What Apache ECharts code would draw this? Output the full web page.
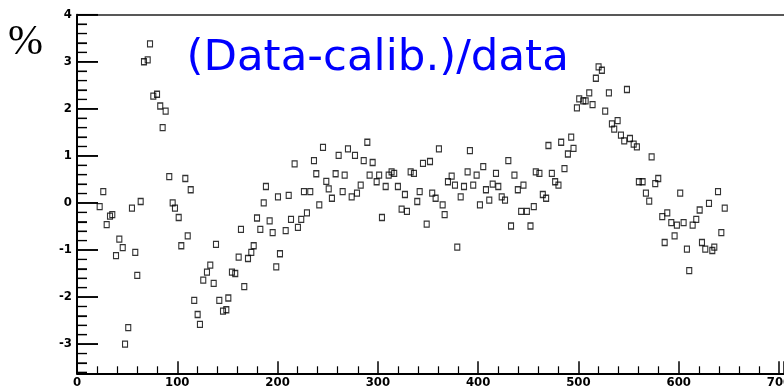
<!DOCTYPE html>
<html>
<head>
<meta charset="utf-8">
<script src="https://cdn.jsdelivr.net/npm/echarts@6/dist/echarts.min.js"></script>
<style>
  html, body { margin: 0; padding: 0; background: #fff; }
  #chart { width: 784px; height: 387px; }
</style>
</head>
<body>
<div id="chart"></div>
<script>
// Channel position (x) and relative deviation in percent (y)
const xValues = [
  22.6, 26.2, 29.6, 32.9, 35.2, 38.9, 42.2, 45.6, 47.9, 51.1,
  54.8, 58.1, 60.1, 63.5, 66.8, 70.5, 72.8, 76.1, 79.8, 83.0,
  85.4, 88.4, 92.0, 95.4, 97.7, 101.4, 104.0, 108.0, 110.4, 113.4,
  116.9, 120.3, 122.6, 125.9, 129.6, 132.9, 136.3, 138.6, 141.9, 145.6,
  148.9, 150.9, 154.5, 157.8, 161.2, 163.5, 166.8, 170.5, 173.8, 176.2,
  179.5, 182.8, 186.2, 188.4, 192.1, 195.1, 198.7, 200.4, 202.4, 208.1,
  211.1, 213.4, 217.0, 220.3, 223.6, 226.3, 229.3, 232.6, 236.3, 238.6,
  241.6, 245.3, 248.6, 251.0, 254.2, 257.9, 260.9, 264.9, 266.9, 270.2,
  273.9, 277.2, 279.2, 282.9, 285.9, 289.5, 291.8, 294.8, 298.8, 301.3,
  304.1, 307.8, 310.8, 313.7, 316.3, 320.0, 323.7, 327.0, 329.0, 332.7,
  336.0, 339.3, 341.7, 345.0, 348.7, 352.0, 354.2, 357.6, 360.9, 364.6,
  366.6, 369.9, 373.6, 376.9, 379.2, 382.6, 385.9, 389.5, 391.8, 395.1,
  398.5, 401.8, 405.1, 407.8, 411.1, 414.5, 417.8, 420.1, 423.5, 426.8,
  430.1, 432.8, 436.2, 439.6, 442.9, 445.2, 448.6, 452.2, 455.5, 457.5,
  461.1, 464.5, 467.8, 470.1, 473.5, 476.8, 480.1, 482.8, 486.1, 489.5,
  492.8, 495.1, 498.5, 500.8, 504.8, 507.2, 510.8, 514.1, 517.4, 520.1,
  523.4, 526.7, 530.4, 533.4, 535.7, 539.1, 542.4, 545.7, 548.4, 551.4,
  555.1, 558.3, 560.3, 564.0, 567.3, 570.6, 573.0, 576.6, 579.6, 583.6,
  586.0, 588.6, 592.6, 595.9, 598.2, 601.5, 604.9, 608.2, 610.5, 613.9,
  617.5, 620.9, 623.2, 626.5, 630.2, 633.5, 635.5, 639.2, 642.5, 645.9
];
const yValues = [
  -0.08, 0.24, -0.46, -0.28, -0.25, -1.12, -0.77, -0.95, -3.00, -2.65,
  -0.11, -1.05, -1.54, 0.03, 3.00, 3.04, 3.38, 2.27, 2.31, 2.06,
  1.60, 1.95, 0.56, 0.00, -0.11, -0.31, -0.91, 0.52, -0.70, 0.28,
  -2.07, -2.37, -2.58, -1.64, -1.47, -1.32, -1.71, -0.88, -2.07, -2.30,
  -2.27, -2.02, -1.47, -1.50, -1.15, -0.56, -1.78, -1.18, -1.05, -0.91,
  -0.32, -0.56, 0.00, 0.35, -0.38, -0.63, -1.36, 0.13, -1.08, -0.59,
  0.16, -0.35, 0.83, -0.52, -0.35, 0.24, -0.21, 0.24, 0.90, 0.62,
  -0.04, 1.18, 0.46, 0.30, 0.10, 0.62, 1.01, 0.24, 0.59, 1.15,
  0.13, 1.01, 0.21, 0.38, 0.90, 1.29, 0.59, 0.86, 0.45, 0.59,
  -0.31, 0.35, 0.59, 0.66, 0.63, 0.35, -0.13, 0.18, -0.18, 0.66,
  0.63, 0.03, 0.24, 0.84, -0.45, 0.88, 0.21, 0.10, 1.15, -0.04,
  -0.25, 0.45, 0.57, 0.38, -0.94, 0.13, 0.35, 0.66, 1.11, 0.38,
  0.59, -0.04, 0.77, 0.28, 0.06, 0.40, 0.63, 0.35, 0.13, 0.06,
  0.90, -0.49, 0.59, 0.28, -0.18, 0.38, -0.18, -0.49, -0.08, 0.66,
  0.63, 0.18, 0.10, 1.22, 0.63, 0.45, 0.38, 1.29, 0.73, 1.04,
  1.40, 1.16, 2.02, 2.21, 2.17, 2.17, 2.34, 2.09, 2.65, 2.89,
  2.82, 1.95, 2.34, 1.68, 1.57, 1.75, 1.44, 1.32, 2.41, 1.37,
  1.25, 1.19, 0.45, 0.45, 0.21, 0.04, 0.98, 0.41, 0.52, -0.29,
  -0.84, -0.21, -0.42, -0.70, -0.47, 0.21, -0.42, -0.98, -1.44, -0.47,
  -0.35, -0.15, -0.84, -0.98, -0.01, -1.01, -0.94, 0.24, -0.63, -0.11
];

// Y-axis tick positions (percent)
const yMajorTicks = [-3, -2, -1, 0, 1, 2, 3, 4];
const yMinorTicks = [
  -3.6, -3.4, -3.2, -2.8, -2.6, -2.4, -2.2, -1.8, -1.6, -1.4, -1.2,
  -0.8, -0.6, -0.4, -0.2, 0.2, 0.4, 0.6, 0.8, 1.2, 1.4, 1.6, 1.8,
  2.2, 2.4, 2.6, 2.8, 3.2, 3.4, 3.6, 3.8
];

const titleText = '(Data-calib.)/data';
const unitText = '%';

const tickFont = {
  color: '#000',
  fontFamily: '"DejaVu Sans Condensed", "Liberation Sans Narrow", "Liberation Sans", sans-serif',
  fontWeight: 'bold',
  fontSize: 13
};

const textElements = [
  {
    type: 'text',
    left: 8,
    top: 22,
    z: 10,
    style: {
      text: unitText,
      font: '42px "Liberation Serif", "Times New Roman", serif',
      fill: '#000'
    }
  },
  {
    type: 'text',
    x: 186.5,
    y: 59,
    z: 10,
    style: {
      text: titleText,
      font: '43.5px "DejaVu Sans", Verdana, sans-serif',
      fill: '#0000ff',
      align: 'left',
      verticalAlign: 'middle'
    }
  }
];

const chart = echarts.init(document.getElementById('chart'), null, { renderer: 'canvas' });

chart.setOption({
  animation: false,
  backgroundColor: '#fff',
  grid: { left: 77, right: 0, top: 14.7, bottom: 13.7, outerBoundsMode: 'none' },
  xAxis: [
    {
      type: 'value',
      position: 'bottom',
      min: 0,
      max: 705,
      interval: 100,
      axisLine: { show: true, onZero: false, lineStyle: { color: '#000', width: 2 } },
      axisTick: { show: true, inside: true, length: 12, lineStyle: { color: '#000', width: 1.5 } },
      minorTick: { show: true, splitNumber: 5, length: 7, lineStyle: { color: '#000', width: 1.2 } },
      axisLabel: Object.assign({ margin: 3, showMaxLabel: false }, tickFont),
      splitLine: { show: false }
    },
    {
      type: 'value',
      position: 'top',
      min: 0,
      max: 705,
      axisLine: { show: true, onZero: false, lineStyle: { color: '#222', width: 1.5 } },
      axisTick: { show: false },
      axisLabel: { show: false },
      splitLine: { show: false }
    }
  ],
  yAxis: {
    type: 'value',
    min: -3.62,
    max: 4,
    splitNumber: 7,
    minInterval: 1,
    maxInterval: 1,
    axisLine: { show: true, onZero: false, lineStyle: { color: '#000', width: 2 } },
    axisTick: { show: true, inside: true, length: 21, lineStyle: { color: '#000', width: 1.5 } },
    minorTick: { show: true, splitNumber: 5, length: 10, lineStyle: { color: '#000', width: 1.2 } },
    axisLabel: Object.assign({ margin: 5, showMinLabel: false }, tickFont),
    splitLine: { show: false }
  },
  series: [
    {
      type: 'scatter',
      xAxisIndex: 0,
      data: xValues.map((x, i) => [x, yValues[i]]),
      symbol: 'rect',
      symbolSize: [5, 6],
      itemStyle: { color: 'rgba(0,0,0,0)', borderColor: '#000', borderWidth: 1.2 },
      emphasis: { disabled: true }
    }
  ],
  graphic: { elements: textElements }
});

// Inward tick marks on the left axis, placed through the y-axis scale
function tickLine(value, length, width) {
  const px = chart.convertToPixel({ xAxisIndex: 0 }, 0);
  const py = chart.convertToPixel({ yAxisIndex: 0 }, value);
  return {
    type: 'line',
    silent: true,
    z: 100,
    shape: { x1: px, y1: py, x2: px + length, y2: py },
    style: { stroke: '#000', lineWidth: width }
  };
}

const tickElements = yMajorTicks.map(v => tickLine(v, 21, 1.5))
  .concat(yMinorTicks.map(v => tickLine(v, 10, 1.2)));

chart.setOption({ graphic: { elements: textElements.concat(tickElements) } });
</script>
</body>
</html>
